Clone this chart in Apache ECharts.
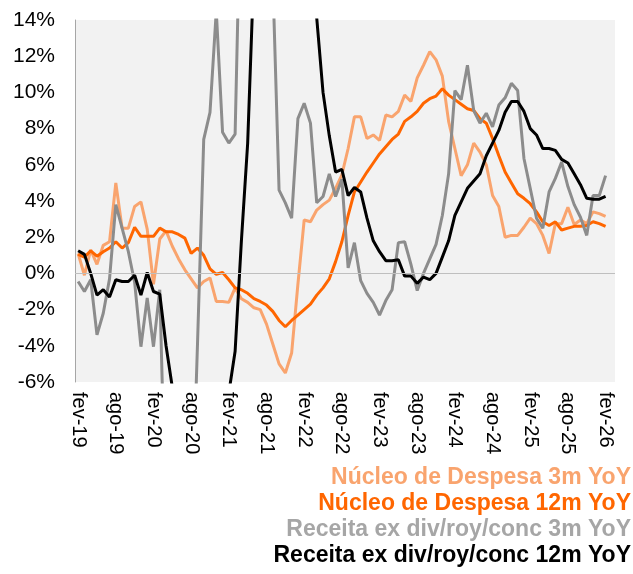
<!DOCTYPE html>
<html>
<head>
<meta charset="utf-8">
<script src="https://cdn.jsdelivr.net/npm/echarts@6/dist/echarts.min.js"></script>
<style>
  html, body { margin: 0; padding: 0; background: #fff; }
  #chart { width: 633px; height: 574px; }
</style>
</head>
<body>
<div id="chart"></div>
<script>
// month labels, fev-19 .. mar-26 (last month is empty)
const monthNames = ['jan', 'fev', 'mar', 'abr', 'mai', 'jun', 'jul', 'ago', 'set', 'out', 'nov', 'dez'];
let categories = [];
for (let k = 0; k < 86; k++) {
    let m = (1 + k) % 12;
    let y = 19 + Math.floor((1 + k) / 12);
    categories.push(monthNames[m] + '-' + y);
}

const seriesNames = [
    'Núcleo de Despesa 3m YoY',
    'Núcleo de Despesa 12m YoY',
    'Receita ex div/roy/conc 3m YoY',
    'Receita ex div/roy/conc 12m YoY'
];

const despesa3m = [1.1, -0.1, 1.3, 0.5, 1.55, 1.75, 5.0, 2.5, 2.5, 3.7,
    3.95, 2.45, -0.6, 1.9, 2.35, 1.5, 0.8, 0.2, -0.3, -0.8,
    -0.45, -0.25, -1.55, -1.55, -1.6, -0.8, -1.4, -1.6, -1.9, -2.0,
    -2.8, -3.9, -5.0, -5.5, -4.4, -0.6, 2.95, 2.85, 3.5, 3.8,
    4.05, 4.7, 5.45, 6.9, 8.65, 8.65, 7.45, 7.65, 7.35, 8.75,
    8.65, 8.95, 9.85, 9.5, 10.8, 11.5, 12.25, 11.8, 10.9, 8.4,
    6.9, 5.4, 6.0, 7.2, 6.7, 6.0, 4.3, 3.7, 2.0, 2.1,
    2.1, 2.55, 3.05, 2.75, 2.1, 1.1, 2.75, 2.75, 3.65, 2.7,
    2.95, 2.75, 3.4, 3.3, 3.15, null];

const despesa12m = [1.05, 0.9, 1.25, 0.95, 1.2, 1.4, 1.75, 1.4, 1.7, 2.55,
    2.05, 2.05, 2.05, 2.5, 2.3, 2.3, 2.15, 1.95, 1.1, 1.4,
    1.0, 0.25, -0.05, 0.05, -0.35, -0.8, -0.9, -1.1, -1.4, -1.55,
    -1.75, -2.1, -2.6, -2.95, -2.6, -2.3, -2.0, -1.7, -1.2, -0.8,
    -0.3, 0.65, 1.75, 3.2, 4.5, 5.05, 5.6, 6.1, 6.6, 7.0,
    7.4, 7.7, 8.4, 8.65, 8.95, 9.4, 9.65, 9.8, 10.2, 9.85,
    9.6, 9.35, 9.1, 9.0, 8.55, 8.3, 7.45, 6.5, 5.6, 5.0,
    4.4, 4.15, 3.85, 3.4, 2.85, 2.65, 2.85, 2.4, 2.5, 2.6,
    2.6, 2.65, 2.85, 2.75, 2.6, null];

const receita3m = [-0.45, -1.0, -0.35, -3.4, -2.2, -0.3, 3.8, 2.5, 1.2, -0.5,
    -4.05, -1.35, -4.05, -0.9, -14, -18, -22, -20, -15, -4,
    7.4, 8.9, 14.5, 7.8, 7.2, 7.7, 23, 26, 25, 22,
    20, 16.3, 4.6, 3.9, 3.05, 8.55, 9.4, 8.3, 3.9, 4.25,
    5.5, 4.25, 5.2, 0.3, 1.7, -0.4, -1.1, -1.6, -2.3, -1.5,
    -0.9, 1.7, 1.75, 0.5, -0.95, 0.0, 0.8, 1.6, 3.2, 5.5,
    10.1, 9.6, 11.5, 9.0, 8.3, 8.85, 8.1, 9.3, 9.7, 10.5,
    10.1, 6.35, 4.7, 3.05, 2.5, 4.5, 5.25, 6.15, 4.8, 3.8,
    3.1, 2.1, 4.3, 4.3, 5.4, null];

const receita12m = [1.25, 1.05, 0.0, -1.2, -0.9, -1.3, -0.35, -0.45, -0.45, -0.1,
    -1.2, 0.05, -1.0, -1.15, -4.0, -6.3, -9, -11, -13, -14,
    -14, -12, -10, -8, -6.6, -4.3, 1.8, 7.2, 16.9, 20,
    24, 27, 28, 28, 26, 23, 20, 18, 14.1, 10.0,
    7.6, 5.6, 5.75, 4.3, 4.75, 4.5, 3.05, 1.8, 1.2, 0.7,
    0.7, 0.75, -0.15, -0.15, -0.55, -0.2, -0.35, 0.0, 0.9, 1.8,
    3.2, 3.95, 4.7, 5.1, 5.5, 6.5, 7.2, 7.9, 8.9, 9.5,
    9.5, 8.95, 8.0, 7.65, 6.9, 6.9, 6.8, 6.3, 6.1, 5.5,
    4.9, 4.15, 4.1, 4.1, 4.25, null];

const lineColors = ['#F9A46E', '#FF6600', '#8C8C8C', '#000000'];
const legendColors = ['#F9A46E', '#FF6600', '#A6A6A6', '#000000'];
const FONT = '"Liberation Sans", Arial, sans-serif';

function makeSeries(idx, data) {
    let s = {
        name: seriesNames[idx],
        type: 'line',
        data: data,
        symbol: 'none',
        clip: true,
        lineStyle: { color: lineColors[idx], width: 3 },
        itemStyle: { color: lineColors[idx] }
    };
    if (idx == 0) {
        s.markLine = {
            silent: true,
            symbol: 'none',
            label: { show: false },
            lineStyle: { color: '#BFBFBF', width: 1, type: 'solid' },
            data: [{ yAxis: 0 }]
        };
    }
    return s;
}

// legend drawn as right-aligned text lines under the plot
let legendTexts = [];
let legendY = [479, 505, 531, 557];
for (let k = 0; k < seriesNames.length; k++) {
    legendTexts.push({
        type: 'text',
        right: 2,
        top: legendY[k] - 13,
        style: {
            text: seriesNames[k],
            fill: legendColors[k],
            font: 'bold 23px ' + FONT
        }
    });
}

var myChart = echarts.init(document.getElementById('chart'));
let option = {
    animation: false,
    textStyle: { fontFamily: FONT },
    grid: {
        left: 75,
        right: 18,
        top: 20,
        bottom: 192,
        show: true,
        backgroundColor: '#F2F2F2',
        borderWidth: 0
    },
    xAxis: {
        type: 'category',
        data: categories,
        boundaryGap: true,
        axisLine: { show: false },
        axisTick: { show: false },
        splitLine: { show: false },
        axisLabel: {
            interval: 5,
            rotate: -90,
            margin: 10,
            color: '#000',
            fontSize: 20,
            fontFamily: FONT
        }
    },
    yAxis: {
        type: 'value',
        min: -6,
        max: 14,
        interval: 2,
        axisLine: { show: true, lineStyle: { color: '#A6A6A6', width: 1 } },
        axisTick: { show: false },
        splitLine: { show: false },
        axisLabel: {
            formatter: '{value}%',
            margin: 20,
            color: '#000',
            fontSize: 21,
            fontFamily: FONT
        }
    },
    graphic: legendTexts,
    series: [
        makeSeries(0, despesa3m),
        makeSeries(1, despesa12m),
        makeSeries(2, receita3m),
        makeSeries(3, receita12m)
    ]
};
myChart.setOption(option);
</script>
</body>
</html>
